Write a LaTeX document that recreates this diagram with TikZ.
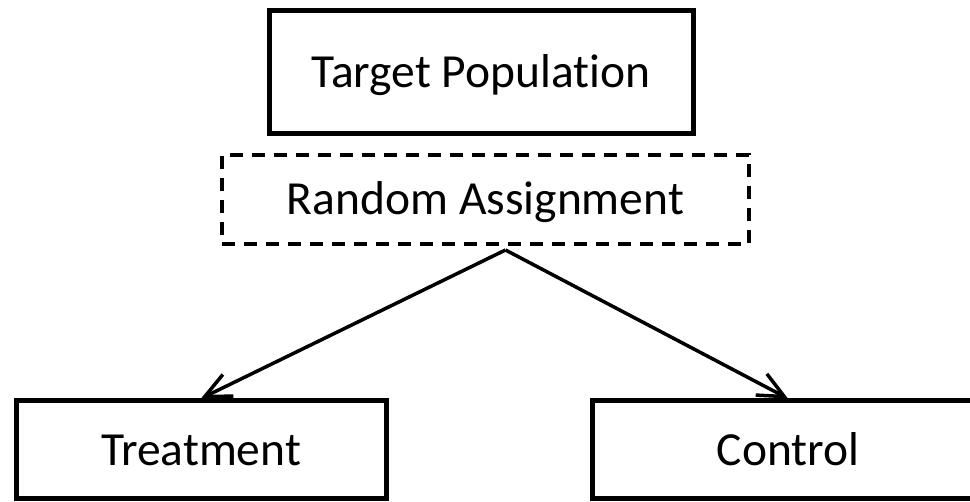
\documentclass[tikz,border=0pt]{standalone}
\usepackage{fontspec}
\setmainfont{Carlito}[Ligatures=NoCommon]
\usetikzlibrary{arrows.meta}

\begin{document}
\begin{tikzpicture}[x=1pt,y=-1pt]
	\tikzset{
		box/.style={draw, line width=5pt, inner sep=0pt, text height=31pt, text depth=0pt,
			font=\fontsize{47.5}{56}\selectfont},
		dashbox/.style={box, line width=4pt, dash pattern=on 13pt off 9pt},
		link/.style={line width=3.5pt, -{Straight Barb[length=26pt,width=24pt]}}
	}
	\useasboundingbox (0,0) rectangle (970,502);
	
	\node[box, minimum width=424pt, minimum height=123pt] (target) at (481,72.5) {Target Population};
	\node[dashbox, minimum width=527pt, minimum height=89pt] (random) at (485.5,199.5) {Random Assignment};
	\node[box, minimum width=370pt, minimum height=98pt] (treat) at (201,450) {Treatment};
	\node[box, minimum width=392pt, minimum height=98pt] (control) at (788,450) {Control};
	
	\coordinate (fork) at ([xshift=20pt,yshift=-4pt]random.south);
	\draw[link] (fork) -- (treat.north);
	\draw[link] (fork) -- (control.north);
\end{tikzpicture}
\end{document}
